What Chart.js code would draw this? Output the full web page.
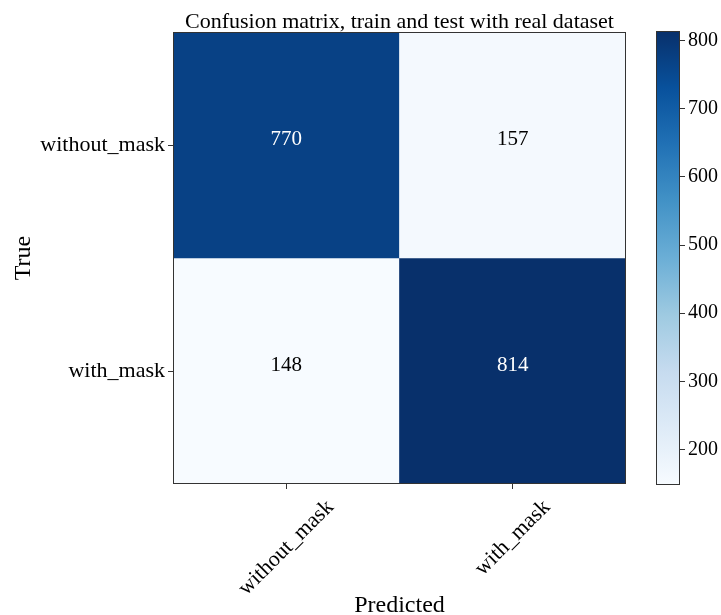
<!DOCTYPE html>
<html>
<head>
<meta charset="utf-8">
<script src="https://cdn.jsdelivr.net/npm/chart.js@4"></script>
<style>
  html, body { margin: 0; padding: 0; background: #fff; }
  #wrap { position: relative; width: 721px; height: 615px; }
  #mainBox { position: absolute; left: 0; top: 0; width: 645px; height: 615px; }
  #barBox  { position: absolute; left: 640px; top: 0; width: 81px; height: 615px; }
</style>
</head>
<body>
<div id="wrap">
  <div id="mainBox"><canvas id="cm"></canvas></div>
  <div id="barBox"><canvas id="cbar"></canvas></div>
</div>
<script>
/* ── data ─────────────────────────────────────────────── */
const chartTitle      = 'Confusion matrix, train and test with real dataset';
const predictedLabels = ['without_mask', 'with_mask'];
const trueLabels      = ['without_mask', 'with_mask'];
const rowWithoutMask  = [770, 157];
const rowWithMask     = [148, 814];
const colorbarTicks   = [200, 300, 400, 500, 600, 700, 800];

const rows = [rowWithoutMask, rowWithMask];
const allValues = rows.flat();
const vmin = Math.min(...allValues);
const vmax = Math.max(...allValues);

const SERIF = "'Liberation Serif', 'Times New Roman', serif";

/* ── matplotlib "Blues" colormap stops ────────────────── */
const BLUES = ['#f7fbff', '#deebf7', '#c6dbef', '#9ecae1', '#6baed6',
               '#4292c6', '#2171b5', '#08519c', '#08306b'];

function hexRgb(h) {
  return [1, 3, 5].map(i => parseInt(h.substr(i, 2), 16));
}
function blues(t) {
  t = Math.max(0, Math.min(1, t));
  const pos = t * (BLUES.length - 1);
  const i = Math.min(Math.floor(pos), BLUES.length - 2);
  const f = pos - i;
  const a = hexRgb(BLUES[i]), b = hexRgb(BLUES[i + 1]);
  const c = a.map((v, k) => Math.round(v + (b[k] - v) * f));
  return `rgb(${c[0]},${c[1]},${c[2]})`;
}
const norm = v => (v - vmin) / (vmax - vmin);

/* ── plugins ──────────────────────────────────────────── */
const framePlugin = {
  id: 'frame',
  afterDatasetsDraw(chart) {
    const { ctx, chartArea: a } = chart;
    ctx.save();
    ctx.strokeStyle = '#333';
    ctx.lineWidth = 1;
    ctx.strokeRect(Math.round(a.left) + 0.5, Math.round(a.top) + 0.5,
                   Math.round(a.right - a.left) - 1, Math.round(a.bottom - a.top) - 1);
    ctx.restore();
  },
};

// title centred over the plot area (matplotlib style), not the whole canvas
const titlePlugin = {
  id: 'axTitle',
  afterDraw(chart) {
    const { ctx, chartArea: a } = chart;
    ctx.save();
    ctx.font = `22px ${SERIF}`;
    ctx.fillStyle = '#000';
    ctx.textAlign = 'center';
    ctx.textBaseline = 'alphabetic';
    ctx.fillText(chartTitle, (a.left + a.right) / 2, a.top - 4);
    ctx.restore();
  },
};

const cellTextPlugin = {
  id: 'cellText',
  afterDatasetsDraw(chart) {
    const { ctx } = chart;
    const thresh = vmax / 2;
    ctx.save();
    ctx.font = `21px ${SERIF}`;
    ctx.textAlign = 'center';
    ctx.textBaseline = 'middle';
    chart.data.datasets.forEach((ds, di) => {
      chart.getDatasetMeta(di).data.forEach((bar, j) => {
        const { x, y, base } = bar.getProps(['x', 'y', 'base'], true);
        const v = ds.values[j];
        ctx.fillStyle = v > thresh ? '#fff' : '#000';
        ctx.fillText(String(v), x, (y + base) / 2 - 6);
      });
    });
    ctx.restore();
  },
};

const xLabelPlugin = {
  id: 'xLabels',
  afterDraw(chart) {
    const { ctx, chartArea } = chart;
    const xs = chart.scales.x;
    const size = 22;
    ctx.save();
    ctx.font = `${size}px ${SERIF}`;
    ctx.fillStyle = '#000';
    ctx.textAlign = 'center';
    ctx.textBaseline = 'middle';
    predictedLabels.forEach((label, i) => {
      const px = xs.getPixelForTick(i);
      const w = ctx.measureText(label).width;
      const half = (w + size) * Math.SQRT1_2 / 2;
      ctx.save();
      ctx.translate(px, chartArea.bottom + 12 + half);
      ctx.rotate(-Math.PI / 4);
      ctx.fillText(label, 0, 0);
      ctx.restore();
    });
    ctx.restore();
  },
};

/* ── confusion matrix ─────────────────────────────────── */
new Chart(document.getElementById('cm'), {
  type: 'bar',
  data: {
    labels: predictedLabels,
    datasets: rows.map((row, r) => ({
      data: row.map(() => [r, r + 1]),
      values: row,
      backgroundColor: row.map(v => blues(norm(v))),
      borderWidth: 0,
      barPercentage: 1,
      categoryPercentage: 1,
      grouped: false,
    })),
  },
  options: {
    responsive: true,
    maintainAspectRatio: false,
    animation: false,
    layout: { padding: { left: 0, right: 19, top: 32, bottom: 0 } },
    plugins: {
      legend: { display: false },
      tooltip: { enabled: false },
      title: { display: false },
    },
    scales: {
      x: {
        type: 'category',
        grid: { offset: false, drawOnChartArea: false, tickLength: 5, color: '#333' },
        border: { display: false },
        ticks: { display: false },
        title: {
          display: true,
          text: 'Predicted',
          color: '#000',
          font: { family: SERIF, size: 24, lineHeight: 0.8 },
          padding: { top: 0, bottom: 0 },
        },
        afterFit: s => { s.height = 131; },
      },
      y: {
        type: 'linear',
        min: 0,
        max: 2,
        reverse: true,
        afterBuildTicks: s => { s.ticks = [{ value: 0.5 }, { value: 1.5 }]; },
        grid: { drawOnChartArea: false, tickLength: 5, color: '#333' },
        border: { display: false },
        ticks: {
          color: '#000',
          padding: 3,
          font: { family: SERIF, size: 22 },
          callback: (v, i) => trueLabels[i],
        },
        title: {
          display: true,
          text: 'True',
          color: '#000',
          font: { family: SERIF, size: 24 },
          padding: { top: 9, bottom: 0 },
        },
        afterFit: s => { s.width = 173; },
      },
    },
  },
  plugins: [cellTextPlugin, framePlugin, xLabelPlugin, titlePlugin],
});

/* ── colorbar ─────────────────────────────────────────── */
new Chart(document.getElementById('cbar'), {
  type: 'bar',
  data: {
    labels: [''],
    datasets: [{
      data: [[vmin, vmax]],
      borderWidth: 0,
      barPercentage: 1,
      categoryPercentage: 1,
      backgroundColor: ctx => {
        const a = ctx.chart.chartArea;
        if (!a) return BLUES[4];
        const g = ctx.chart.ctx.createLinearGradient(0, a.bottom, 0, a.top);
        BLUES.forEach((c, i) => g.addColorStop(i / (BLUES.length - 1), c));
        return g;
      },
    }],
  },
  options: {
    responsive: true,
    maintainAspectRatio: false,
    animation: false,
    layout: { padding: { left: 16, right: 0, top: 31, bottom: 130 } },
    plugins: { legend: { display: false }, tooltip: { enabled: false } },
    scales: {
      x: { display: false },
      y: {
        position: 'right',
        min: vmin,
        max: vmax,
        afterBuildTicks: s => { s.ticks = colorbarTicks.map(v => ({ value: v })); },
        grid: { drawOnChartArea: false, tickLength: 5, color: '#333' },
        border: { display: false },
        ticks: {
          color: '#000',
          padding: 3,
          font: { family: SERIF, size: 20 },
        },
        afterFit: s => { s.width = 41; },
      },
    },
  },
  plugins: [framePlugin],
});
</script>
</body>
</html>
